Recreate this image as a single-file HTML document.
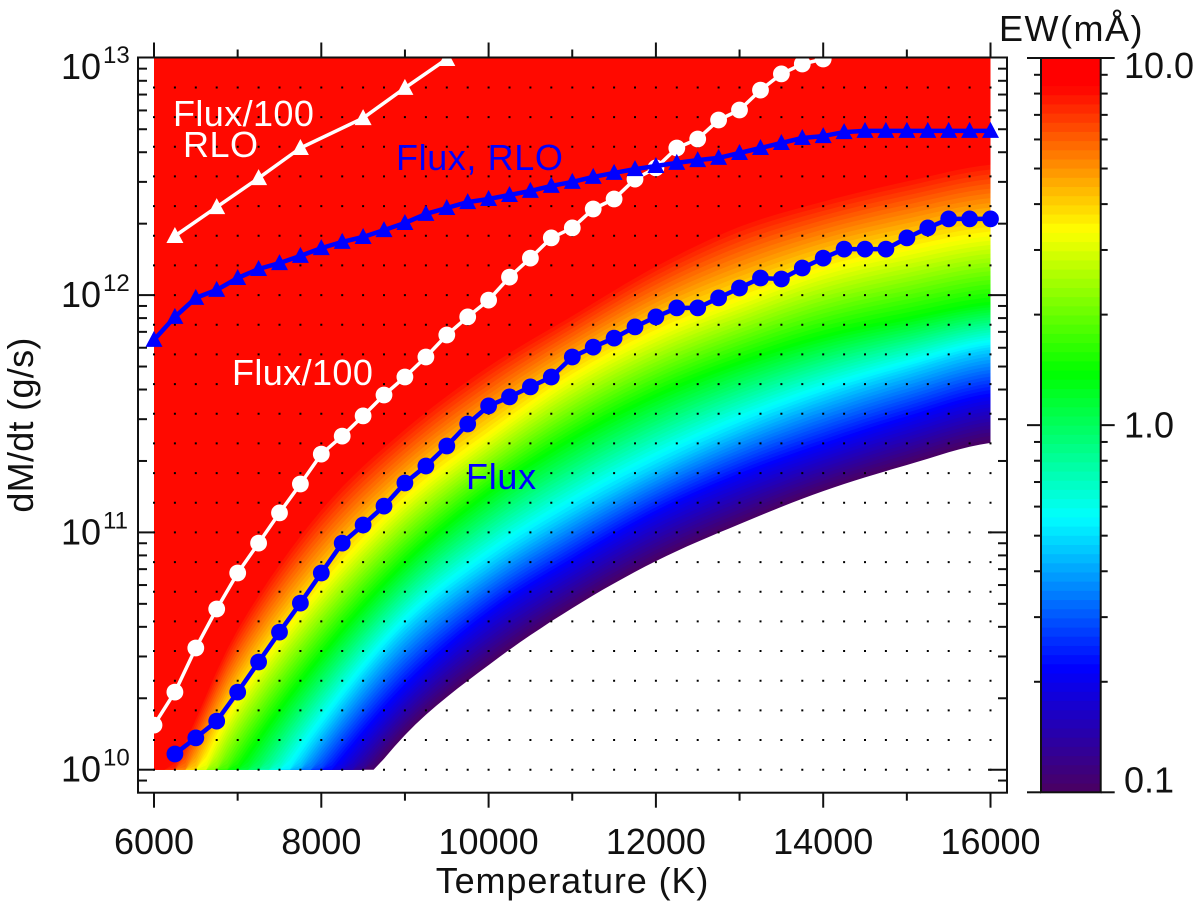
<!DOCTYPE html>
<html lang="en">
<head>
<meta charset="utf-8">
<title>EW map: dM/dt vs Temperature</title>
<style>
html,body{margin:0;padding:0;background:#fff;overflow:hidden;}
svg{display:block;}
text{font-family:"Liberation Sans",sans-serif;font-size:36px;fill:#111;}
</style>
</head>
<body>
<svg id="chart" xmlns="http://www.w3.org/2000/svg" width="1200" height="907" viewBox="0 0 1200 907">
  <defs>
    <clipPath id="mapClip"><rect id="mapClipRect" x="154" y="58" width="836.5" height="712"/></clipPath>
    <clipPath id="boxClip"><rect id="boxClipRect" x="138" y="57" width="869" height="736"/></clipPath>
  </defs>
  <g id="heatmap" clip-path="url(#mapClip)"></g>
  <path id="dots" fill="#000"></path>
  <g id="series" clip-path="url(#boxClip)"></g>
  <g id="axes"></g>
  <g id="colorbar"></g>
  <text x="572.5" y="893" text-anchor="middle" letter-spacing="0.9">Temperature (K)</text>
  <text x="0" y="0" text-anchor="middle" letter-spacing="0.3" transform="translate(33,425) rotate(-90)">dM/dt (g/s)</text>
  <text x="999" y="41" letter-spacing="1.5">EW(mÅ)</text>
  <text x="173" y="126" letter-spacing="0.4" style="fill:#fff">Flux/100</text>
  <text x="183" y="157" letter-spacing="0.5" style="fill:#fff">RLO</text>
  <text x="396" y="170" letter-spacing="0.6" style="fill:#00f">Flux, RLO</text>
  <text x="232" y="385" letter-spacing="0.4" style="fill:#fff">Flux/100</text>
  <text x="466" y="489" letter-spacing="0.7" style="fill:#00f">Flux</text>
</svg>
<script>
// ---- data (log10 of dM/dt in g/s) ----
const contourTemps = [6000,7000,8000,9000,10000,11000,12000,13000,14000,15000,16000];
const contourEW = [0.1,0.2,0.47,1.39,3.4,8.4];
const contour01 = [8.777,9.249,9.704,10.146,10.441,10.681,10.879,11.035,11.174,11.284,11.377];
const contour02 = [8.966,9.451,9.914,10.327,10.639,10.863,11.065,11.221,11.347,11.461,11.558];
const contour047 = [9.093,9.628,10.155,10.585,10.863,11.082,11.271,11.432,11.566,11.676,11.769];
const contour139 = [9.409,9.999,10.483,10.875,11.170,11.398,11.579,11.718,11.828,11.903,11.967];
const contour34 = [9.662,10.294,10.766,11.137,11.410,11.655,11.840,11.979,12.106,12.190,12.253];
const contour84 = [9.914,10.610,11.115,11.453,11.718,11.929,12.139,12.308,12.413,12.498,12.569];

const rloFlux100Temps = [6250,6750,7250,7750,8500,9000,9500];
const rloFlux100Log = [12.249,12.371,12.493,12.620,12.746,12.873,12.995];

const rloFluxStartT = 6000;
const rloFluxStepT = 250;
const rloFluxLog = [11.811,11.908,11.988,12.022,12.072,12.110,12.135,12.165,12.198,12.224,12.245,12.274,12.304,12.342,12.367,12.392,12.405,12.422,12.439,12.460,12.477,12.498,12.515,12.531,12.544,12.557,12.569,12.578,12.599,12.620,12.641,12.662,12.670,12.687,12.692,12.692,12.692,12.692,12.692,12.692,12.692];

const flux100StartT = 6000;
const flux100StepT = 250;
const flux100Log = [10.188,10.327,10.513,10.677,10.829,10.955,11.082,11.204,11.330,11.406,11.491,11.579,11.655,11.739,11.832,11.908,11.979,12.076,12.156,12.241,12.283,12.363,12.405,12.489,12.536,12.620,12.658,12.738,12.780,12.864,12.932,12.974,12.995];

const fluxStartT = 6250;
const fluxStepT = 250;
const fluxLog = [10.066,10.134,10.205,10.327,10.454,10.580,10.702,10.829,10.955,11.031,11.111,11.208,11.280,11.364,11.457,11.533,11.571,11.613,11.655,11.739,11.781,11.819,11.866,11.908,11.946,11.946,11.988,12.030,12.072,12.068,12.114,12.156,12.194,12.194,12.194,12.241,12.283,12.321,12.321,12.321];

const xTickLabels = [6000,8000,10000,12000,14000,16000];
const xMinorTicks = [7000,9000,11000,13000,15000];
const yDecades = [10,11,12,13];
const colorbarLabels = ["0.1","1.0","10.0"];
const colorbarLabelValues = [0.1,1,10];
const cmapPos = [0,0.17,0.375,0.572,0.766,0.963,1];
const cmapRGB = [[75,0,96],[0,0,255],[0,255,255],[0,255,0],[255,255,0],[255,0,0],[255,0,0]];
const bandCount = 80;

// ---- scales ----
const X0 = 154, X1 = 990.5, T0 = 6000, T1 = 16000;
const Y13 = 57.8, DEC = 237.3;
const xS = t => X0 + (t - T0) * (X1 - X0) / (T1 - T0);
const yS = l => Y13 + (13 - l) * DEC;
const CB_TOP = 58, CB_BOT = 792.3;
const cbY = v => CB_BOT - (Math.log10(v) + 1) / 2 * (CB_BOT - CB_TOP);

const NS = 'http://www.w3.org/2000/svg';
function el(parent, tag, attrs, txt){
  const e = document.createElementNS(NS, tag);
  for (const k in attrs) e.setAttribute(k, attrs[k]);
  if (txt !== undefined) e.textContent = txt;
  parent.appendChild(e);
  return e;
}
function cmap(t){
  t = Math.max(0, Math.min(1, t));
  let i = 0;
  while (i < cmapPos.length - 2 && t > cmapPos[i + 1]) i++;
  const f = (t - cmapPos[i]) / (cmapPos[i + 1] - cmapPos[i]);
  const c = cmapRGB[i].map((a, k) => Math.round(a + (cmapRGB[i + 1][k] - a) * f));
  return 'rgb(' + c.join(',') + ')';
}

// ---- heatmap: filled contour bands ----
const contourSet = [contour01, contour02, contour047, contour139, contour34, contour84];
const contourT = contourEW.map(v => (Math.log10(v) + 1) / 2);
function smooth(arr, T){
  const s = (T - contourTemps[0]) / (contourTemps[1] - contourTemps[0]);
  const i = Math.min(arr.length - 2, Math.floor(s));
  const u = s - i;
  const p0 = arr[Math.max(0, i - 1)], p1 = arr[i], p2 = arr[i + 1], p3 = arr[Math.min(arr.length - 1, i + 2)];
  return 0.5 * (2 * p1 + (p2 - p0) * u + (2 * p0 - 5 * p1 + 4 * p2 - p3) * u * u + (3 * p1 - p0 - 3 * p2 + p3) * u * u * u);
}
function contourAt(t, T){
  let k = 0;
  while (k < contourT.length - 2 && t > contourT[k + 1]) k++;
  const f = (t - contourT[k]) / (contourT[k + 1] - contourT[k]);
  const a = smooth(contourSet[k], T), b = smooth(contourSet[k + 1], T);
  return a + (b - a) * f;
}
const heat = document.getElementById('heatmap');
for (let i = 0; i < bandCount; i++) {
  const t = i / bandCount;
  if (t > contourT[contourT.length - 1]) break;
  const pts = [xS(T0) + ',' + yS(13)];
  for (let T = T0; T <= T1; T += 125) {
    const lg = Math.max(10, contourAt(t, T));
    pts.push(xS(T).toFixed(1) + ',' + yS(lg).toFixed(1));
  }
  pts.push(xS(T1) + ',' + yS(13));
  const band = el(heat, 'polygon', {points: pts.join(' '), fill: cmap((i + 0.5) / bandCount)});
  
  
}

// ---- dot grid ----
let dotPath = '';
for (let T = T0; T <= T1; T += 250) {
  for (let l = 10; l <= 13.0001; l += 0.125) {
    if (l > 12.99) continue;
    dotPath += 'M' + (xS(T) - 1).toFixed(1) + ' ' + (yS(l) - 1).toFixed(1) + 'h2v2h-2z';
  }
}
document.getElementById('dots').setAttribute('d', dotPath);

// ---- series ----
const sg = document.getElementById('series');
function seriesPts(temps, vals){
  return vals.map((v, i) => [xS(temps[i]), yS(v)]);
}
function stepTemps(start, step, vals){
  return vals.map((_, i) => start + i * step);
}
function drawLine(pts, color, w, name){
  const p = el(sg, 'polyline', {points: pts.map(a => a[0].toFixed(1) + ',' + a[1].toFixed(1)).join(' '), fill: 'none', stroke: color, 'stroke-width': w, 'stroke-linejoin': 'round'});
  
  
}
function drawCircles(pts, color, name){
  pts.forEach(a => {
    const c = el(sg, 'circle', {cx: a[0].toFixed(1), cy: a[1].toFixed(1), r: 8.4, fill: color});
    
    
  });
}
function drawTriangles(pts, color, name){
  pts.forEach(a => {
    const x = a[0], y = a[1];
    const t = el(sg, 'polygon', {points: x.toFixed(1) + ',' + (y - 9).toFixed(1) + ' ' + (x + 8.5).toFixed(1) + ',' + (y + 7).toFixed(1) + ' ' + (x - 8.5).toFixed(1) + ',' + (y + 7).toFixed(1), fill: color});
    
    
  });
}
const wt = seriesPts(rloFlux100Temps, rloFlux100Log);
drawLine(wt, '#fff', 3.5, 'flux-100-rlo-line');
drawTriangles(wt, '#fff', 'flux-100-rlo-marker');
const wc = seriesPts(stepTemps(flux100StartT, flux100StepT, flux100Log), flux100Log);
drawLine(wc, '#fff', 3.5, 'flux-100-line');
drawCircles(wc, '#fff', 'flux-100-marker');
const bt = seriesPts(stepTemps(rloFluxStartT, rloFluxStepT, rloFluxLog), rloFluxLog);
drawLine(bt, '#00f', 4.5, 'flux-rlo-line');
drawTriangles(bt, '#00f', 'flux-rlo-marker');
const bc = seriesPts(stepTemps(fluxStartT, fluxStepT, fluxLog), fluxLog);
drawLine(bc, '#00f', 4.5, 'flux-line');
drawCircles(bc, '#00f', 'flux-marker');

// ---- axes ----
const ax = document.getElementById('axes');
const BL = 138, BR = 1007, BT = 57.5, BB = 792.7;
const INK = '#111';
function tick(parent, x1, y1, x2, y2, name){
  const l = el(parent, 'line', {x1, y1, x2, y2, stroke: INK, 'stroke-width': 2});
  
  
}
const frame = el(ax, 'rect', {x: BL, y: BT, width: BR - BL, height: BB - BT, fill: 'none', stroke: INK, 'stroke-width': 2});


xTickLabels.forEach(T => {
  const x = xS(T);
  tick(ax, x, BB, x, BB + 15, 'x-major-tick');
  tick(ax, x, BT, x, BT - 15, 'x-top-major-tick');
  const lb = el(ax, 'text', {x: x, y: 854, 'text-anchor': 'middle'}, String(T));
  
  
});
xMinorTicks.forEach(T => {
  const x = xS(T);
  tick(ax, x, BB, x, BB + 8, 'x-minor-tick');
  tick(ax, x, BT, x, BT - 8, 'x-top-minor-tick');
});
yDecades.forEach(d => {
  const y = yS(d);
  if (d < 13) {
    tick(ax, BL, y, BL + 16, y, 'y-major-tick');
    tick(ax, BR, y, BR - 19, y, 'y-right-major-tick');
  }
  const off = d === 13 ? 21 : 12;
  const a = el(ax, 'text', {x: 61, y: y + off}, '10');
  
  
  const b = el(ax, 'text', {x: 103, y: y + off - 16, style: 'font-size:24px'}, String(d));
  
  
});
[9, 10, 11, 12].forEach(d => {
  for (let m = 2; m <= 9; m++) {
    const y = yS(d + Math.log10(m));
    if (y > BB - 1 || y < BT) continue;
    tick(ax, BL, y, BL + 9, y, 'y-minor-tick');
    tick(ax, BR, y, BR - 9, y, 'y-right-minor-tick');
  }
});

// ---- colorbar ----
const cb = document.getElementById('colorbar');
const CL = 1041, CR = 1100.7;
for (let i = 0; i < bandCount; i++) {
  const y0 = CB_BOT - (i + 1) / bandCount * (CB_BOT - CB_TOP);
  const r = el(cb, 'rect', {x: CL, y: y0.toFixed(2), width: CR - CL, height: ((CB_BOT - CB_TOP) / bandCount + 0.5).toFixed(2), fill: cmap((i + 0.5) / bandCount)});
  
  
}
const cf = el(cb, 'rect', {x: CL, y: CB_TOP, width: CR - CL, height: CB_BOT - CB_TOP, fill: 'none', stroke: INK, 'stroke-width': 2});


colorbarLabelValues.forEach((v, i) => {
  const y = cbY(v);
  tick(cb, CL - 14, y, CL, y, 'colorbar-major-tick');
  tick(cb, CR, y, CR + 14, y, 'colorbar-major-tick');
  const yText = i === 0 ? y : (i === 1 ? y + 12.5 : y + 20);
  const t = el(cb, 'text', {x: 1124, y: yText}, colorbarLabels[i]);
  
  
});
[0.1, 1].forEach(d => {
  for (let m = 2; m <= 9; m++) {
    const y = cbY(d * m);
    tick(cb, CL - 7, y, CL, y, 'colorbar-minor-tick');
    tick(cb, CR, y, CR + 7, y, 'colorbar-minor-tick');
  }
});
</script>
</body>
</html>
